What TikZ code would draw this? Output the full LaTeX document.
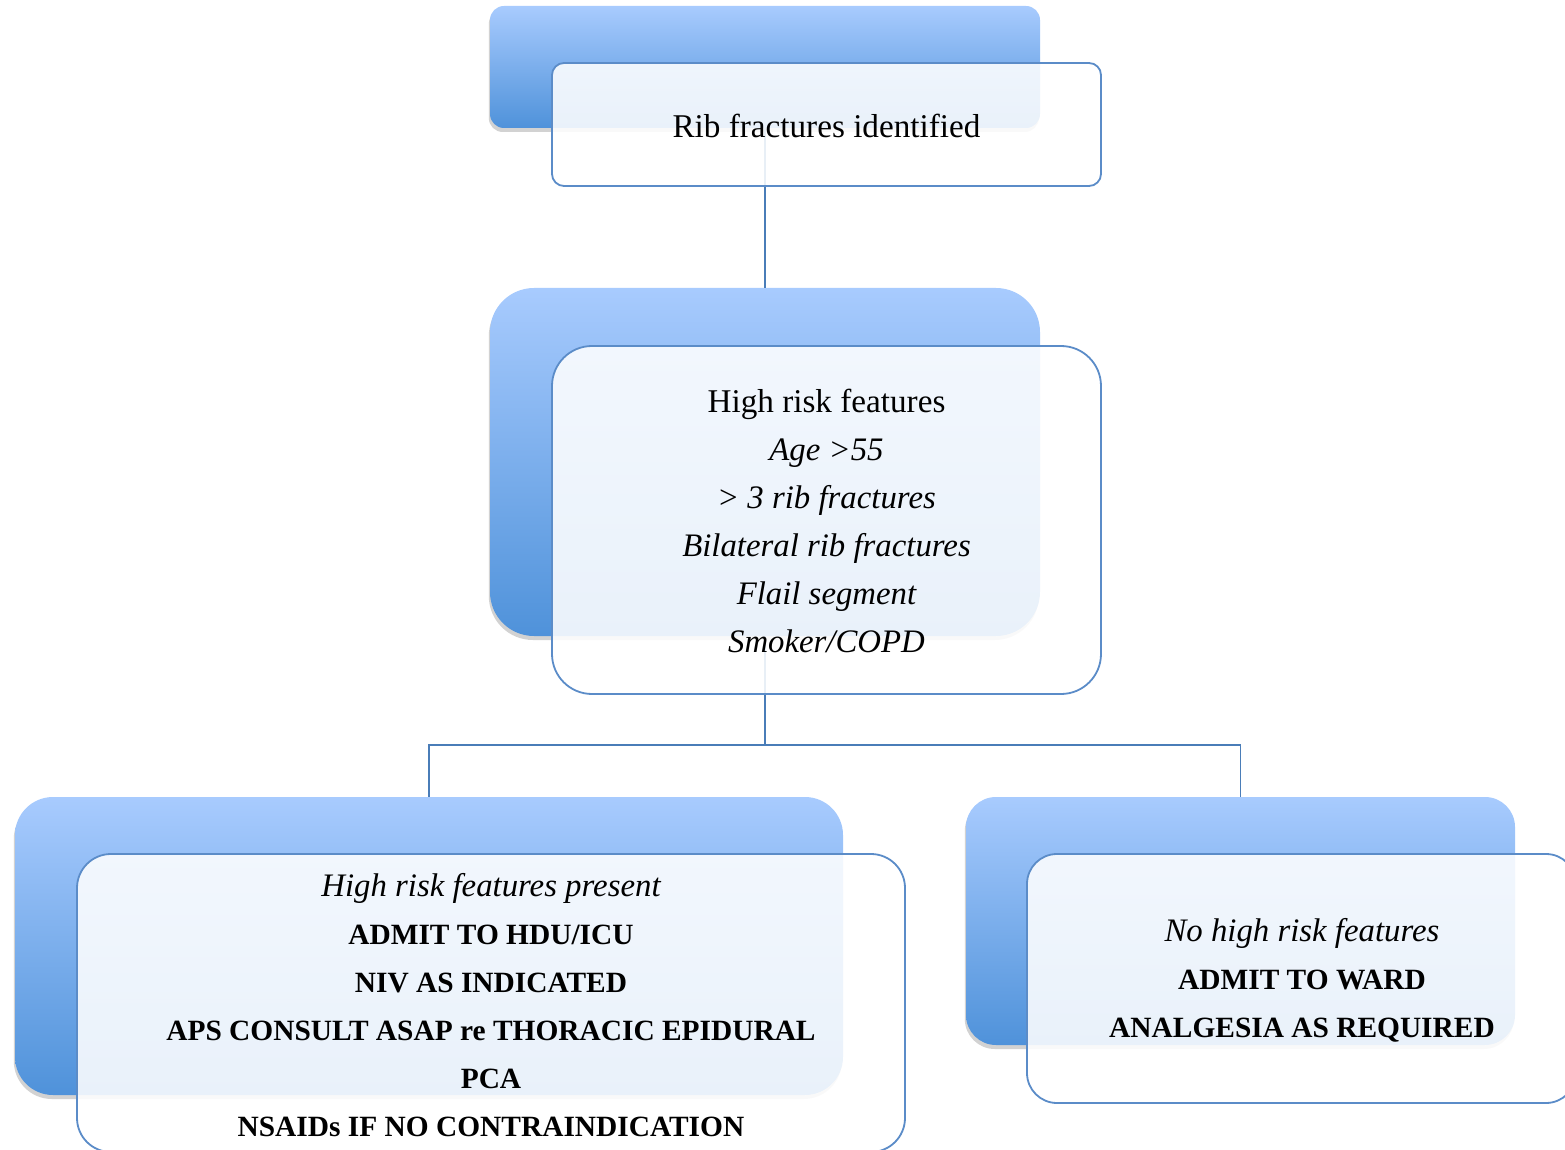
\documentclass[tikz,border=0pt]{standalone}
\usepackage{fontspec}
\setmainfont{Liberation Serif}
\usetikzlibrary{shadows}
\definecolor{backtop}{HTML}{A8CBFE}
\definecolor{backbot}{HTML}{4F92DA}
\definecolor{edgeblue}{HTML}{5B8CC8}
\definecolor{linkblue}{HTML}{4A7DB8}
\newcommand\rgtext{\fontsize{16.6}{24}\selectfont\upshape\mdseries}
\newcommand\ittext{\fontsize{16.4}{24}\selectfont\itshape\mdseries}
\newcommand\bftext{\fontsize{14.7}{24}\selectfont\upshape\bfseries}
\tikzset{
  backbox/.style={draw=none, top color=backtop, bottom color=backbot, inner sep=0pt,
    drop shadow={shadow xshift=-0.6pt, shadow yshift=-2pt, opacity=0.22, fill=black!80}},
  frontbox/.style={draw=edgeblue, line width=0.9pt, fill=white, fill opacity=0.88, inner sep=0pt},
  boxtext/.style={align=center, font=\fontsize{15}{24}\selectfont, inner sep=0pt},
  link/.style={draw=linkblue, line width=0.9pt}
}
\begin{document}
\begin{tikzpicture}[x=0.5pt, y=-0.5pt]
\clip (0,0) rectangle (1565,1150);
% back boxes
\node[backbox, rounded corners=7pt, minimum width=275pt, minimum height=61pt] (b1) at (765,67) {};
\node[backbox, rounded corners=22pt, minimum width=275pt, minimum height=174pt] (b2) at (765,462) {};
\node[backbox, rounded corners=19pt, minimum width=414pt, minimum height=149pt] (b3) at (429,946) {};
\node[backbox, rounded corners=15pt, minimum width=274.5pt, minimum height=124pt] (b4) at (1240.5,921) {};
% connectors
\coordinate (j) at (765,745);
\draw[link] (b1.south) -- (b2.north);
\draw[link] (b2.south) -- (j) -| (b3.north);
\draw[link] (j) -| (b4.north);
% front boxes
\node[frontbox, rounded corners=6pt, minimum width=274.5pt, minimum height=61.5pt] (f1) at (826.5,124.5) {};
\node[frontbox, rounded corners=20pt, minimum width=274.5pt, minimum height=174pt] (f2) at (826.5,520) {};
\node[frontbox, rounded corners=17pt, minimum width=414pt, minimum height=149pt] (f3) at (491,1003) {};
\node[frontbox, rounded corners=15pt, minimum width=274.5pt, minimum height=124.5pt] (f4) at (1301.5,978.5) {};
% texts
\node[boxtext] (t1) at (826.5,126) {\rgtext Rib fractures identified};
\node[boxtext] (t2) at (826.5,521) {\rgtext High risk features\\ \ittext Age >55\\ \ittext > 3 rib fractures\\ \ittext Bilateral rib fractures\\ \ittext Flail segment\\ \ittext Smoker/COPD};
\node[boxtext] (t3) at (491,1005.5) {\ittext High risk features present\\ \bftext ADMIT TO HDU/ICU\\ \bftext NIV AS INDICATED\\ \bftext APS CONSULT ASAP re THORACIC EPIDURAL\\ \bftext PCA\\ \bftext NSAIDs IF NO CONTRAINDICATION};
\node[boxtext] (t4) at (1302,980) {\ittext No high risk features\\ \bftext ADMIT TO WARD\\ \bftext ANALGESIA AS REQUIRED};
\end{tikzpicture}
\end{document}
